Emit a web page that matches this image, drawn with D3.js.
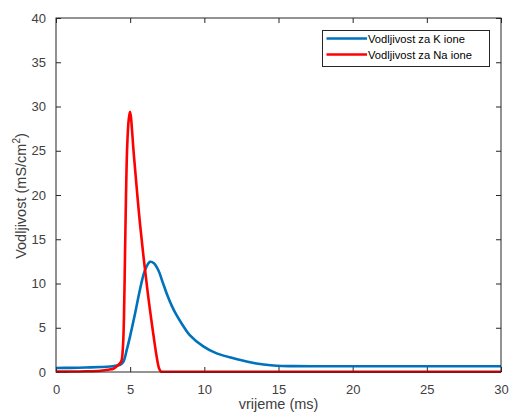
<!DOCTYPE html>
<html>
<head>
<meta charset="utf-8">
<script src="https://cdn.jsdelivr.net/npm/d3@7"></script>
<style>
  html, body { margin: 0; padding: 0; background: #fff; }
  svg { display: block; font-family: "Liberation Sans", Arial, Helvetica, sans-serif; }
</style>
</head>
<body>
<svg id="chart" width="511" height="416"></svg>
<script>
// ---- data ----
const seriesNames = ["Vodljivost za K ione", "Vodljivost za Na ione"];
const xTicks = [0, 5, 10, 15, 20, 25, 30];
const yTicks = [0, 5, 10, 15, 20, 25, 30, 35, 40];

const timeK = [0, 1, 2, 3, 3.64, 4.0, 4.32, 4.54, 4.77, 4.99, 5.33, 5.66, 6.0, 6.34, 6.6, 6.9, 7.2, 7.5, 7.8, 8.1, 8.5, 9.0, 9.93, 10.83, 11.96, 13.08, 14.0, 14.88, 16, 18, 20, 25, 30];
const gK    = [0.45, 0.47, 0.5, 0.56, 0.62, 0.7, 0.82, 1.16, 2.5, 4.0, 6.6, 9.3, 11.5, 12.45, 12.3, 11.5, 10.1, 8.7, 7.5, 6.5, 5.4, 4.2, 2.9, 2.1, 1.55, 1.1, 0.85, 0.7, 0.66, 0.65, 0.65, 0.65, 0.65];

const timeNa = [0, 1, 2, 3, 3.5, 3.9, 4.2, 4.4, 4.5, 4.58, 4.65, 4.72, 4.8, 4.9, 4.99, 5.26, 5.66, 6.16, 6.5, 6.79, 6.95, 7.08, 7.3, 10, 15, 20, 25, 30];
const gNa    = [0.05, 0.05, 0.08, 0.15, 0.25, 0.4, 0.8, 1.2, 2.5, 6, 13, 20, 25.5, 28.5, 29.4, 24.3, 16.8, 9.3, 5.0, 1.7, 0.4, 0.05, 0.03, 0.03, 0.03, 0.03, 0.03, 0.03];

const colors = ["#0072BD", "#FF0000"];

// ---- layout ----
const svg = d3.select("#chart");
const L = 56, R = 501, T = 18, B = 372;
const x = d3.scaleLinear().domain([0, 30]).range([L, R]);
const y = d3.scaleLinear().domain([0, 40]).range([B, T]);
const axisColor = "#262626";
const textColor = "#404040";

svg.append("rect").attr("x", L).attr("y", T).attr("width", R - L).attr("height", B - T).attr("fill", "#fff");

const line = d3.line().curve(d3.curveCatmullRom.alpha(0.5)).x(d => x(d[0])).y(d => y(d[1]));
const dataK = timeK.map((t, i) => [t, gK[i]]);
const dataNa = timeNa.map((t, i) => [t, gNa[i]]);

function styleAxis(g) {
  g.select(".domain").remove();
  g.selectAll(".tick line").attr("stroke", axisColor);
  g.selectAll(".tick text").attr("fill", textColor).attr("font-size", 13).attr("font-family", "Liberation Sans, Arial, sans-serif");
}
svg.append("g").attr("transform", `translate(0,${B})`)
  .call(d3.axisBottom(x).tickValues(xTicks).tickSize(-5).tickPadding(13).tickFormat(d3.format("d")))
  .call(styleAxis);
svg.append("g").attr("transform", `translate(0,${T})`)
  .call(d3.axisTop(x).tickValues(xTicks).tickSize(-5).tickFormat(""))
  .call(styleAxis);
svg.append("g").attr("transform", `translate(${L},0)`)
  .call(d3.axisLeft(y).tickValues(yTicks).tickSize(-5).tickPadding(10).tickFormat(d3.format("d")))
  .call(styleAxis);
svg.append("g").attr("transform", `translate(${R},0)`)
  .call(d3.axisRight(y).tickValues(yTicks).tickSize(-5).tickFormat(""))
  .call(styleAxis);

svg.append("path").datum(dataK).attr("d", line).attr("fill", "none")
  .attr("stroke", colors[0]).attr("stroke-width", 2.6).attr("stroke-linejoin", "round");
svg.append("path").datum(dataNa).attr("d", line).attr("fill", "none")
  .attr("stroke", colors[1]).attr("stroke-width", 2.6).attr("stroke-linejoin", "round");

svg.append("rect").attr("x", L).attr("y", T).attr("width", R - L).attr("height", B - T)
  .attr("fill", "none").attr("stroke", axisColor).attr("stroke-width", 1);

svg.append("text").attr("x", (L + R) / 2).attr("y", 409).attr("text-anchor", "middle")
  .attr("fill", textColor).attr("font-size", 14.5).text("vrijeme (ms)");
const yl = svg.append("text").attr("transform", `translate(26,${(T + B) / 2 + 1}) rotate(-90)`)
  .attr("text-anchor", "middle").attr("fill", textColor).attr("font-size", 14.5);
yl.append("tspan").text("Vodljivost (mS/cm");
yl.append("tspan").attr("font-size", 10).attr("dy", -6).text("2");
yl.append("tspan").attr("dy", 6).text(")");

const lg = svg.append("g");
lg.append("rect").attr("x", 322.5).attr("y", 30.5).attr("width", 167).attr("height", 36)
  .attr("fill", "#fff").attr("stroke", axisColor).attr("stroke-width", 1);
seriesNames.forEach((name, i) => {
  const yy = 38.5 + i * 16;
  lg.append("line").attr("x1", 326.5).attr("x2", 367).attr("y1", yy).attr("y2", yy)
    .attr("stroke", colors[i]).attr("stroke-width", 2.6);
  lg.append("text").attr("x", 368).attr("y", yy + 4).attr("fill", "#000")
    .attr("font-size", 11.2).text(name);
});
</script>
</body>
</html>
